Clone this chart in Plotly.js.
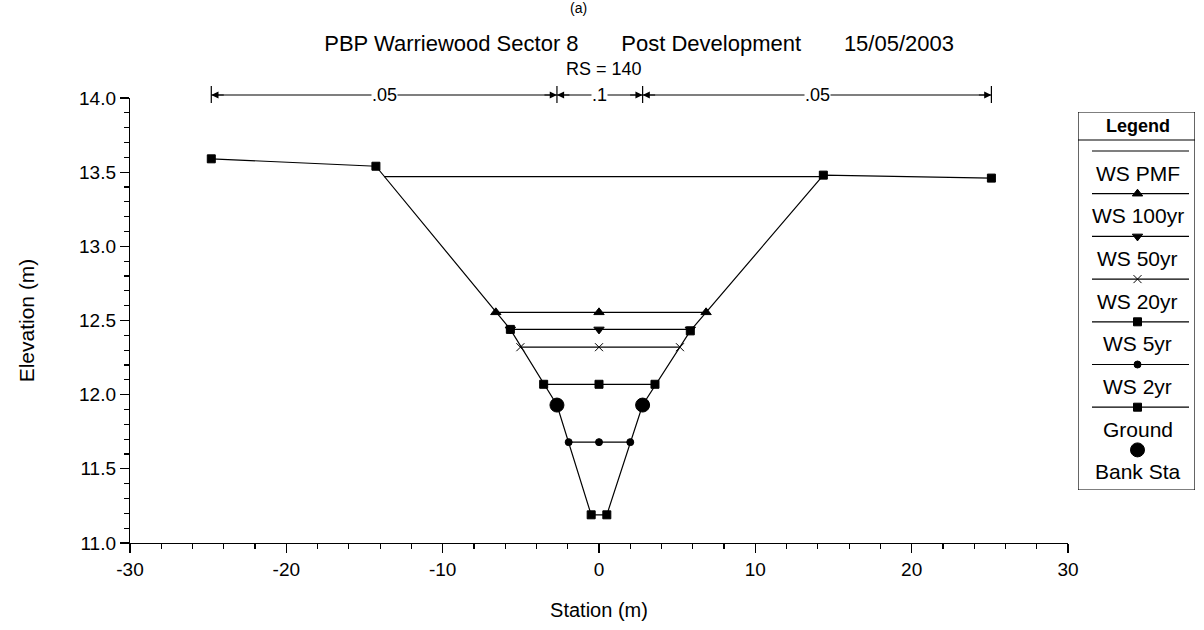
<!DOCTYPE html>
<html>
<head>
<meta charset="utf-8">
<script src="https://cdn.plot.ly/plotly-3.0.1.min.js"></script>
<style>html,body{margin:0;padding:0;background:#fff;}#chart{width:1204px;height:630px;}</style>
</head>
<body>
<div id="chart"></div>
<script>
// ---------- data ----------
const groundX = [-24.8, -14.27, -5.67, -2.69, -0.5, 0.5, 2.79, 5.84, 14.35, 25.1];
const groundY = [13.59, 13.54, 12.44, 11.93, 11.19, 11.19, 11.93, 12.43, 13.48, 13.46];
const bankX = [-2.69, 2.79];
const bankY = [11.93, 11.93];

const wsPMFX = [-13.75, 14.27];
const wsPMFY = [13.47, 13.47];
const ws100X = [-6.6, 0, 6.85];
const ws100Y = [12.555, 12.555, 12.555];
const ws50X = [-5.67, 0, 5.84];
const ws50Y = [12.44, 12.44, 12.44];
const ws20X = [-5.03, 0, 5.18];
const ws20Y = [12.32, 12.32, 12.32];
const ws5X = [-3.54, 0, 3.58];
const ws5Y = [12.07, 12.07, 12.07];
const ws2X = [-1.94, 0, 2.0];
const ws2Y = [11.68, 11.68, 11.68];

const seriesNames = ['WS PMF', 'WS 100yr', 'WS 50yr', 'WS 20yr', 'WS 5yr', 'WS 2yr', 'Ground', 'Bank Sta'];
const nStations = [-24.8, -2.69, 2.79, 25.1];
const nValues = ['.05', '.1', '.05'];

const xTickVals = [-30, -20, -10, 0, 10, 20, 30];
const xTickText = ['-30', '-20', '-10', '0', '10', '20', '30'];

const titleText = 'PBP Warriewood Sector 8' + '\u00a0'.repeat(7) + 'Post Development' + '\u00a0'.repeat(7) + '15/05/2003';
const subTitle = 'RS = 140';
const figLabel = '(a)';
const xTitle = 'Station (m)';
const yTitle = 'Elevation (m)';

// ---------- styles ----------
const FONT = 'Liberation Sans, Arial, sans-serif';
const styles = [
  {symbol: 'circle', size: 0, mode: 'lines'},
  {symbol: 'triangle-up', size: 9, mode: 'lines+markers'},
  {symbol: 'triangle-down', size: 9, mode: 'lines+markers'},
  {symbol: 'x-thin-open', size: 8, mode: 'lines+markers'},
  {symbol: 'square', size: 8, mode: 'lines+markers'},
  {symbol: 'circle', size: 7, mode: 'lines+markers'},
  {symbol: 'square', size: 8, mode: 'lines+markers'},
  {symbol: 'circle', size: 14, mode: 'markers'}
];
const seriesX = [wsPMFX, ws100X, ws50X, ws20X, ws5X, ws2X, groundX, bankX];
const seriesY = [wsPMFY, ws100Y, ws50Y, ws20Y, ws5Y, ws2Y, groundY, bankY];

const traces = seriesNames.map((n, i) => ({
  type: 'scatter', name: n, x: seriesX[i], y: seriesY[i], mode: styles[i].mode,
  line: {color: '#000', width: 1.2},
  marker: {symbol: styles[i].symbol, size: styles[i].size, color: '#000', line: {color: '#000', width: 1}},
  xaxis: 'x', yaxis: 'y', showlegend: false, cliponaxis: false
}));

// ---------- geometry (pixels) ----------
const W = 1204, H = 630;
const M = {l: 130, r: 9, t: 98, b: 87};
const plotW = W - M.l - M.r, plotH = H - M.t - M.b;
const xAxisRightPx = 1068;
const px2paperX = p => (p - M.l) / plotW;
const py2paperY = p => (H - M.b - p) / plotH;

// legend box (pixel space, drawn in x2/y2 which map to pixels)
const LG = {x0: 1078, x1: 1195, y0: 112, y1: 490, headerY: 126, sepY: 140, sample0: 151, label0: 173, step: 42.7, sx0: 1092, sx1: 1189};
const lgCx = (LG.x0 + LG.x1) / 2 + 1;

const shapes = [];
const annotations = [];

// legend frame
shapes.push({type: 'rect', xref: 'x2', yref: 'y2', x0: LG.x0, x1: LG.x1, y0: LG.y0, y1: LG.y1, line: {color: '#000', width: 1.2}, fillcolor: 'rgba(0,0,0,0)'});
shapes.push({type: 'line', xref: 'x2', yref: 'y2', x0: LG.x0, x1: LG.x1, y0: LG.sepY, y1: LG.sepY, line: {color: '#000', width: 1.2}});
annotations.push({xref: 'x2', yref: 'y2', x: lgCx, y: LG.headerY, yanchor: 'middle', text: '<b>Legend</b>', showarrow: false, font: {family: FONT, size: 18, color: '#000'}});

seriesNames.forEach((n, i) => {
  const sy = LG.sample0 + LG.step * i;
  const ly = LG.label0 + LG.step * i;
  if (styles[i].mode !== 'markers') {
    shapes.push({type: 'line', xref: 'x2', yref: 'y2', x0: LG.sx0, x1: LG.sx1, y0: sy, y1: sy, line: {color: '#000', width: 1.2}});
  }
  if (styles[i].size > 0) {
    traces.push({type: 'scatter', x: [lgCx], y: [sy], mode: 'markers', xaxis: 'x2', yaxis: 'y2', showlegend: false, hoverinfo: 'skip',
      marker: {symbol: styles[i].symbol, size: styles[i].size, color: '#000', line: {color: '#000', width: 1}}});
  }
  annotations.push({xref: 'x2', yref: 'y2', x: lgCx, y: ly, yanchor: 'middle', text: n, showarrow: false, font: {family: FONT, size: 21, color: '#000'}});
});

// Manning's n bar above the plot
const arrowYpx = 95;
const arrowY = py2paperY(arrowYpx);
nStations.forEach(s => {
  shapes.push({type: 'line', xref: 'x', yref: 'paper', x0: s, x1: s, y0: py2paperY(103), y1: py2paperY(86), line: {color: '#000', width: 1.2}});
});
for (let k = 0; k < nValues.length; k++) {
  const a = nStations[k], b = nStations[k + 1];
  shapes.push({type: 'line', xref: 'x', yref: 'paper', x0: a, x1: b, y0: arrowY, y1: arrowY, line: {color: '#000', width: 1.2}});
  annotations.push({xref: 'x', yref: 'paper', x: a, y: arrowY, ax: 14, ay: 0, axref: 'pixel', ayref: 'pixel', text: '', showarrow: true, arrowhead: 2, arrowsize: 1.2, arrowwidth: 1.2, arrowcolor: '#000', standoff: 0, startstandoff: 0});
  annotations.push({xref: 'x', yref: 'paper', x: b, y: arrowY, ax: -14, ay: 0, axref: 'pixel', ayref: 'pixel', text: '', showarrow: true, arrowhead: 2, arrowsize: 1.2, arrowwidth: 1.2, arrowcolor: '#000', standoff: 0, startstandoff: 0});
  annotations.push({xref: 'x', yref: 'paper', x: (a + b) / 2, y: arrowY, xanchor: 'center', yanchor: 'middle', text: nValues[k], showarrow: false, bgcolor: '#fff', borderpad: 0, font: {family: FONT, size: 18, color: '#000'}});
}

// subtitle and figure label
annotations.push({xref: 'paper', yref: 'paper', x: px2paperX(604), y: py2paperY(69), xanchor: 'center', yanchor: 'middle', text: subTitle, showarrow: false, font: {family: FONT, size: 18, color: '#000'}});
annotations.push({xref: 'paper', yref: 'paper', x: px2paperX(578), y: py2paperY(8), xanchor: 'center', yanchor: 'middle', text: figLabel, showarrow: false, font: {family: FONT, size: 14, color: '#000'}});

const layout = {
  width: W, height: H,
  margin: M,
  paper_bgcolor: '#fff', plot_bgcolor: '#fff',
  font: {family: FONT, color: '#000'},
  showlegend: false,
  title: {text: titleText, xref: 'container', yref: 'container', x: 954 / W, xanchor: 'right', y: 1 - 43 / H, yanchor: 'middle', font: {family: FONT, size: 22, color: '#000'}},
  xaxis: {
    domain: [0, px2paperX(xAxisRightPx)], range: [-30, 30], tickmode: 'array', tickvals: xTickVals, ticktext: xTickText,
    showline: true, linecolor: '#000', linewidth: 1.2, mirror: false,
    ticks: 'outside', ticklen: 9, tickwidth: 1.2, tickcolor: '#000',
    minor: {dtick: 2, tick0: 0, ticks: 'outside', ticklen: 5, tickcolor: '#000', showgrid: false},
    showgrid: false, zeroline: false, tickfont: {family: FONT, size: 19, color: '#000'},
    title: {text: xTitle, font: {family: FONT, size: 20, color: '#000'}, standoff: 24},
    anchor: 'y', automargin: false, fixedrange: true
  },
  yaxis: {
    domain: [0, 1], range: [11, 14], dtick: 0.5, tick0: 11, tickformat: '.1f',
    showline: true, linecolor: '#000', linewidth: 1.2, mirror: false,
    ticks: 'outside', ticklen: 9, tickwidth: 1.2, tickcolor: '#000',
    minor: {dtick: 0.1, ticks: 'outside', ticklen: 5, tickcolor: '#000', showgrid: false},
    showgrid: false, zeroline: false, tickfont: {family: FONT, size: 19, color: '#000'},
    title: {text: yTitle, font: {family: FONT, size: 21, color: '#000'}, standoff: 38},
    anchor: 'x', automargin: false, fixedrange: true
  },
  xaxis2: {domain: [px2paperX(LG.x0), px2paperX(LG.x1)], range: [LG.x0, LG.x1], visible: false, anchor: 'y2', fixedrange: true},
  yaxis2: {domain: [py2paperY(LG.y1), py2paperY(LG.y0)], range: [LG.y1, LG.y0], visible: false, anchor: 'x2', fixedrange: true},
  shapes: shapes,
  annotations: annotations
};

Plotly.newPlot('chart', traces, layout, {staticPlot: true, displayModeBar: false});
</script>
</body>
</html>
